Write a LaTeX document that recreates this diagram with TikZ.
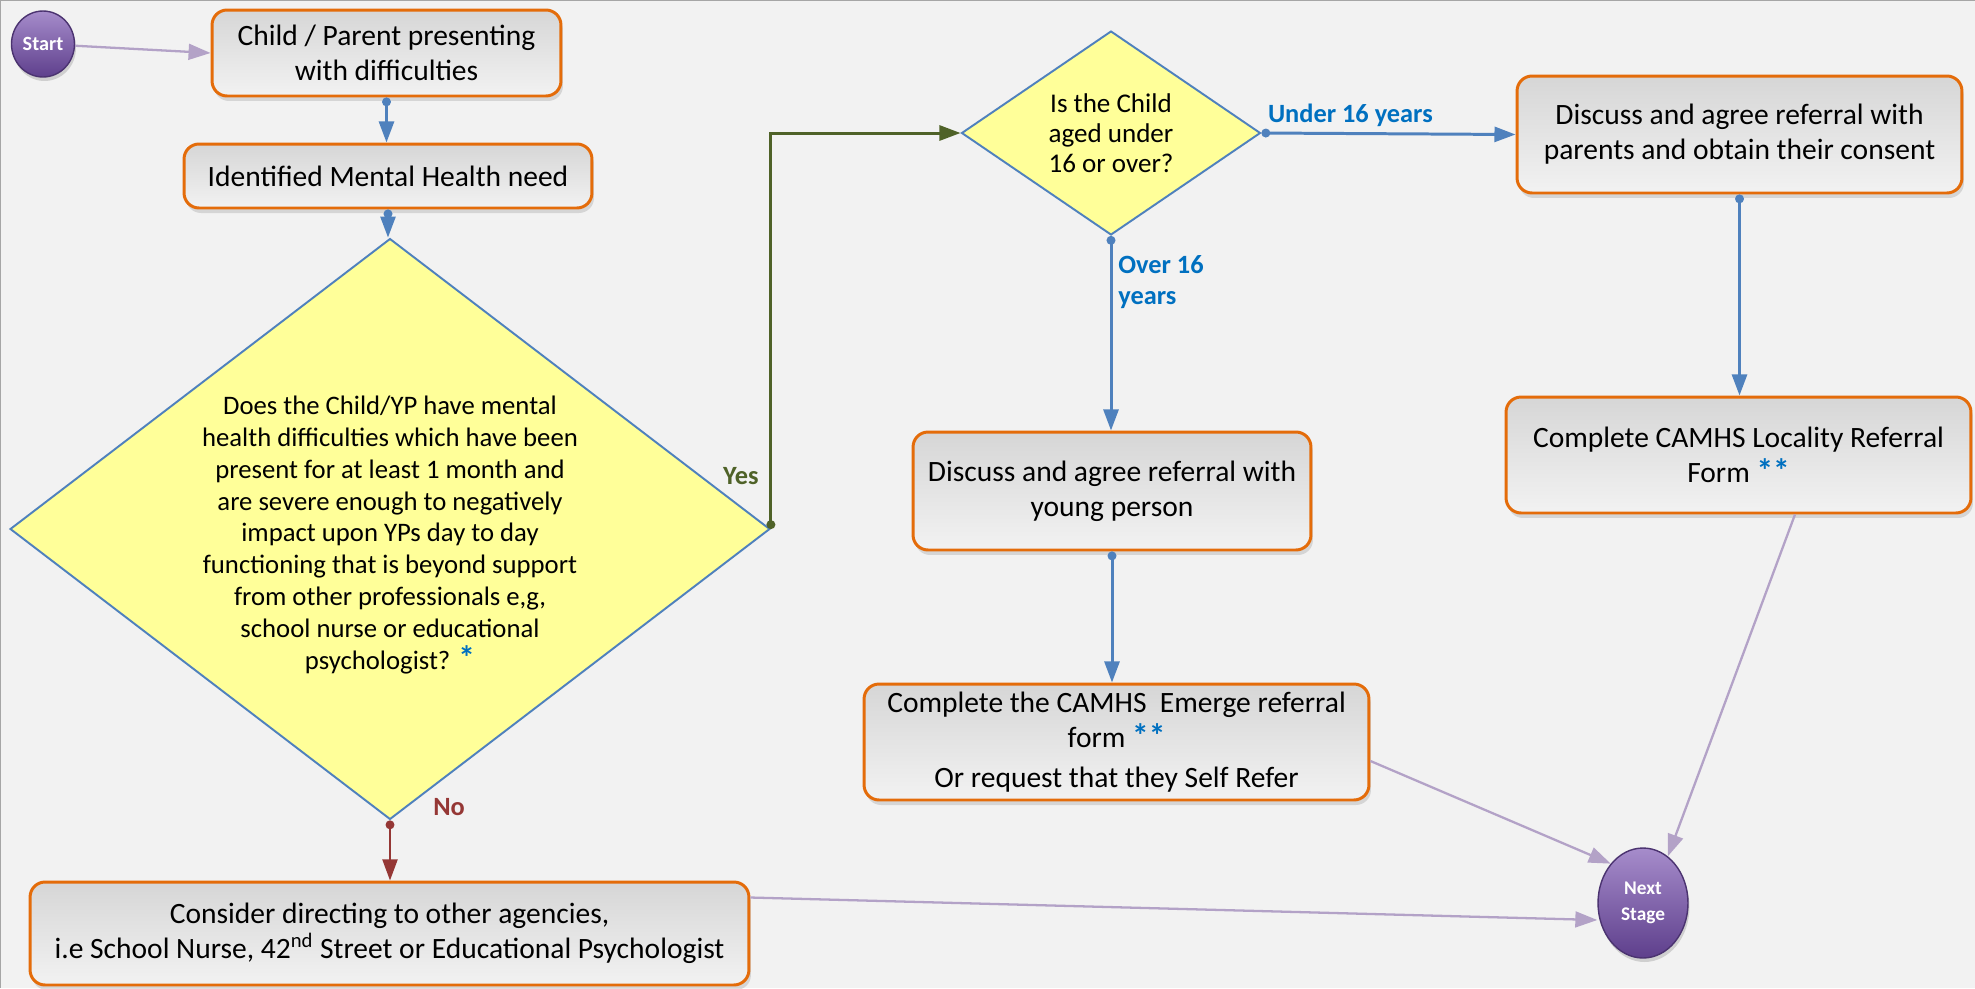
\documentclass[tikz,border=0pt]{standalone}
\usepackage{fontspec}
\setmainfont{Carlito}
\usetikzlibrary{arrows.meta,shapes.geometric,shadows}
\definecolor{pageBg}{HTML}{F2F2F2}
\definecolor{boxEdge}{HTML}{E46C0A}
\definecolor{boxTop}{HTML}{D6D6D6}
\definecolor{boxBot}{HTML}{F2F2F2}
\definecolor{diaFill}{HTML}{FFFF99}
\definecolor{diaEdge}{HTML}{4F81BD}
\definecolor{flowBlue}{HTML}{4F81BD}
\definecolor{lblBlue}{HTML}{0070C0}
\definecolor{yesGreen}{HTML}{4F6228}
\definecolor{noRed}{HTML}{953735}
\definecolor{linkPurple}{HTML}{B3A2C7}
\definecolor{ballTop}{HTML}{A68CCB}
\definecolor{ballBot}{HTML}{5E3F8C}
\definecolor{ballEdge}{HTML}{4B3370}
\def\stars#1{{\color{lblBlue}\bfseries\fontsize{19}{20}\selectfont#1}}
\tikzset{
	stepbox/.style={draw=boxEdge, line width=1.7pt, rounded corners=0.3cm, top color=boxTop, bottom color=boxBot, align=center, inner sep=0pt, font=\fontsize{16.8}{20}\selectfont, drop shadow={opacity=0.25, shadow xshift=0.04cm, shadow yshift=-0.1cm}},
	decision/.style={diamond, draw=diaEdge, line width=1.1pt, fill=diaFill, inner sep=0pt},
	terminal/.style={ellipse, draw=ballEdge, line width=0.8pt, top color=ballTop, bottom color=ballBot, text=white, inner sep=0pt, drop shadow={opacity=0.3, shadow xshift=0.03cm, shadow yshift=-0.08cm}},
	blueflow/.style={draw=flowBlue, line width=1.7pt, {Circle[length=5pt]}-{Triangle[length=12pt,width=8.5pt]}},
	yesflow/.style={draw=yesGreen, line width=1.7pt, {Circle[length=5pt]}-{Triangle[length=12pt,width=8.5pt]}},
	noflow/.style={draw=noRed, line width=1.3pt, {Circle[length=5pt]}-{Triangle[length=12pt,width=8.5pt]}},
	link/.style={draw=linkPurple, line width=1.3pt, -{Triangle[length=12.5pt,width=9pt]}},
	lbl/.style={inner sep=0pt, font=\bfseries\fontsize{15}{18}\selectfont}
}

\begin{document}
\begin{tikzpicture}[x=0.02cm, y=-0.02cm]
			%%%%% START %%%%%
			
			\useasboundingbox (0,0) rectangle (1975,988);
			\fill[pageBg] (0,0) rectangle (1975,988);
			\draw[gray!70, line width=1.5pt] (0,988) -- (0,0) -- (1975,0);
			
			\node[terminal, minimum width=1.26cm, minimum height=1.32cm, font=\bfseries\fontsize{11.5}{12}\selectfont] (start) at (43,44) {Start};
			\node[stepbox, minimum width=6.98cm, minimum height=1.72cm] (child) at (386.5,53) {Child / Parent presenting\\with difficulties};
			\node[stepbox, minimum width=8.16cm, minimum height=1.28cm] (need) at (388,176) {Identified Mental Health need};
			
			\node[decision, minimum width=15.2cm, minimum height=11.62cm] (q1) at (390,529) {};
			\node[align=center, font=\fontsize{15.2}{18.2}\selectfont] (q1text) at ([yshift=-0.12cm]q1.center) {Does the Child/YP have mental\\health difficulties which have been\\present for at least 1 month and\\are severe enough to negatively\\impact upon YPs day to day\\functioning that is beyond support\\from other professionals e,g,\\school nurse or educational\\psychologist? \stars{*}};
			\node[stepbox, minimum width=14.38cm, minimum height=2.06cm] (consider) at (389.5,933.5) {Consider directing to other agencies,\\i.e School Nurse, 42\textsuperscript{nd} Street or Educational Psychologist};
			
			\node[decision, minimum width=5.98cm, minimum height=4.08cm] (q2) at (1111,133) {};
			\node[align=center, font=\fontsize{15.4}{17}\selectfont] (q2text) at (q2.center) {Is the Child\\aged under\\16 or over?};
			
			\node[stepbox, minimum width=8.9cm, minimum height=2.34cm] (parents) at (1739.5,134.5) {Discuss and agree referral with\\parents and obtain their consent};
			\node[stepbox, minimum width=9.3cm, minimum height=2.32cm] (locality) at (1738.5,455) {Complete CAMHS Locality Referral\\Form \stars{**}};
			\node[stepbox, minimum width=7.96cm, minimum height=2.36cm] (young) at (1112,491) {Discuss and agree referral with\\young person};
			\node[stepbox, minimum width=10.1cm, minimum height=2.32cm] (emerge) at (1116.5,742) {Complete the CAMHS\ \ Emerge referral\\form \stars{**}\\[3pt]Or request that they Self Refer};
			
			\node[terminal, minimum width=1.8cm, minimum height=2.2cm, align=center, font=\bfseries\fontsize{11}{15}\selectfont] (next) at (1643,903) {Next\\Stage};
			
			\draw[link] (start) -- (child.west);
			\draw[blueflow] (child.south) -- (child.south |- need.north);
			\draw[blueflow] (need.south) -- (need.south |- q1.north);
			\draw[yesflow] (q1.east) |- (q2.west);
			\draw[noflow] (q1.south) -- (q1.south |- consider.north);
			
			\draw[blueflow] (q2.east) -- node[lbl, pos=0.35, above=3pt, text=lblBlue] (under) {Under 16 years} (parents.west);
			\draw[blueflow] (q2.south) -- (q2.south |- young.north);
			\draw[blueflow] (young.south) -- (young.south |- emerge.north);
			\draw[blueflow] (parents.south) -- (parents.south |- locality.north);
			
			\node[lbl, text=yesGreen, anchor=south east] (yes) at ([xshift=-0.24cm, yshift=0.88cm]q1.east) {Yes};
			\node[lbl, text=noRed, anchor=west] (no) at ([xshift=0.86cm, yshift=0.26cm]q1.south) {No};
			\node[lbl, text=lblBlue, anchor=north west, align=left] (over) at ([xshift=0.14cm, yshift=-0.38cm]q2.south) {Over 16\\years};
			
			\draw[link] ([yshift=-0.34cm]consider.north east) -- ([yshift=-0.34cm]next.west);
			\draw[link] ([yshift=-0.38cm]emerge.east) -- (next.north west);
			\draw[link] ([xshift=1.13cm]locality.south) -- (next.62);
			
			%%%%% END %%%%%
\end{tikzpicture}
\end{document}
